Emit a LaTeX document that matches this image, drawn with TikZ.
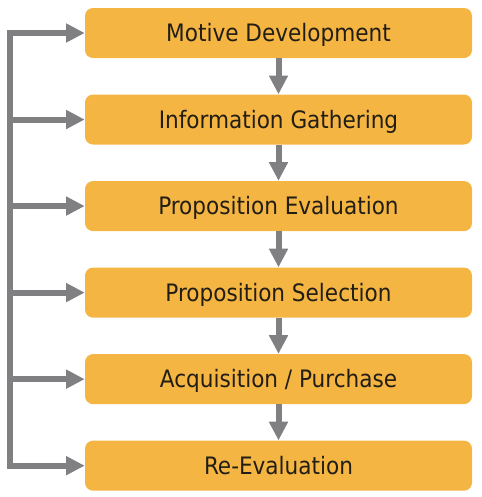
\documentclass[tikz,border=0pt]{standalone}
\usepackage{fontspec}
\newfontfamily\stagefont{DejaVu Sans Condensed}
\usetikzlibrary{positioning,arrows.meta}
\definecolor{stageorange}{RGB}{245,181,66}
\definecolor{flowgray}{RGB}{128,128,130}
\definecolor{stagetext}{RGB}{34,30,22}
\tikzset{
  stage/.style={fill=stageorange, rounded corners=6pt, minimum width=290.25pt,
    minimum height=37.5pt, inner sep=0pt, text=stagetext,
    text height=13pt, text depth=0pt,
    font=\stagefont\fontsize{18pt}{20pt}\selectfont},
  flow/.style={draw=flowgray, line width=4.5pt,
    -{Triangle[length=14pt,width=13.5pt]}},
  back/.style={draw=flowgray, line width=4.5pt, line join=miter}
}
\begin{document}
\begin{tikzpicture}[x=0.75pt,y=-0.75pt]
    \useasboundingbox (0,0) rectangle (482,497);

    \node[stage] (motive) at (278.5,33) {Motive Development};
    \node[stage, below=27pt of motive] (info) {Information Gathering};
    \node[stage, below=27pt of info] (evaluation) {Proposition Evaluation};
    \node[stage, below=27pt of evaluation] (selection) {Proposition Selection};
    \node[stage, below=27pt of selection] (purchase) {Acquisition / Purchase};
    \node[stage, below=27pt of purchase] (reeval) {Re-Evaluation};

    % steps down
    \draw[flow] (motive) -- (info);
    \draw[flow] (info) -- (evaluation);
    \draw[flow] (evaluation) -- (selection);
    \draw[flow] (selection) -- (purchase);
    \draw[flow] (purchase) -- (reeval);

    % feedback rail on the left
    \coordinate (rail) at (9.5,0);
    \draw[back] (rail |- motive.west) -- (rail |- reeval.west);
    \draw[flow] (rail |- motive.west) ++(-3,0) -- (motive.west);
    \draw[flow] (rail |- info.west) -- (info.west);
    \draw[flow] (rail |- evaluation.west) -- (evaluation.west);
    \draw[flow] (rail |- selection.west) -- (selection.west);
    \draw[flow] (rail |- purchase.west) -- (purchase.west);
    \draw[flow] (rail |- reeval.west) ++(-3,0) -- (reeval.west);
\end{tikzpicture}
\end{document}
